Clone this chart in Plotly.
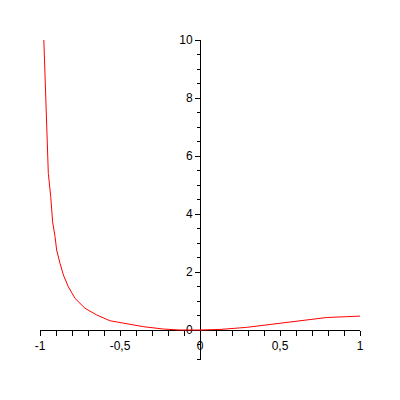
import plotly.graph_objects as go

# curve
x_vals = [-0.976, -0.965, -0.958, -0.948, -0.933, -0.921, -0.906, -0.896, -0.875, -0.854,
          -0.823, -0.781, -0.719, -0.646, -0.563, -0.458, -0.354, -0.229, -0.125, 0.0,
          0.125, 0.29, 0.417, 0.54, 0.667, 0.79, 0.917, 1.0]
y_vals = [10, 8.39, 6.9, 5.4, 4.6, 3.73, 3.22, 2.76, 2.3, 1.9,
          1.49, 1.09, 0.75, 0.52, 0.32, 0.21, 0.115, 0.034, 0.0, 0.0,
          0.02, 0.09, 0.17, 0.26, 0.34, 0.43, 0.46, 0.48]

x_tickvals = [-1, -0.5, 0, 0.5, 1]
x_ticktext = ['-1', '-0,5', '0', '0,5', '1']
y_tickvals = [0, 2, 4, 6, 8, 10]
y_ticktext = ['0', '2', '4', '6', '8', '10']

y_min = -1.034

fig = go.Figure()
fig.add_trace(go.Scatter(x=x_vals, y=y_vals, mode='lines',
                         line=dict(color='#ff0000', width=1), hoverinfo='skip'))

fig.update_layout(
    width=400, height=400,
    margin=dict(l=40, r=40, t=40, b=40),
    paper_bgcolor='white', plot_bgcolor='white',
    showlegend=False,
    font=dict(family='Liberation Sans, Arial, sans-serif', size=12, color='black'),
    xaxis=dict(
        range=[-1, 1], anchor='free', position=(0 - y_min) / (10 - y_min),
        showline=True, linecolor='black', linewidth=1,
        showgrid=False, zeroline=False, layer='below traces',
        tickmode='array', tickvals=x_tickvals, ticktext=x_ticktext,
        ticks='outside', ticklen=5, tickcolor='black', tickwidth=1,
        minor=dict(tickmode='linear', tick0=0, dtick=0.1, ticks='outside',
                   ticklen=5, tickcolor='black', tickwidth=1, showgrid=False),
    ),
    yaxis=dict(
        range=[y_min, 10], anchor='free', position=0.5, side='left',
        showline=True, linecolor='black', linewidth=1,
        showgrid=False, zeroline=False, layer='below traces',
        tickmode='array', tickvals=y_tickvals, ticktext=y_ticktext,
        ticks='outside', ticklen=5, tickcolor='black', tickwidth=1,
        minor=dict(tickmode='linear', tick0=0, dtick=0.5, ticks='outside',
                   ticklen=3, tickcolor='black', tickwidth=1, showgrid=False),
    ),
)

# drop the browser's default body margin so the figure sits at the page corner
fig.write_html("out.html", config={'displayModeBar': False},
               post_script="document.body.style.margin='0';")
